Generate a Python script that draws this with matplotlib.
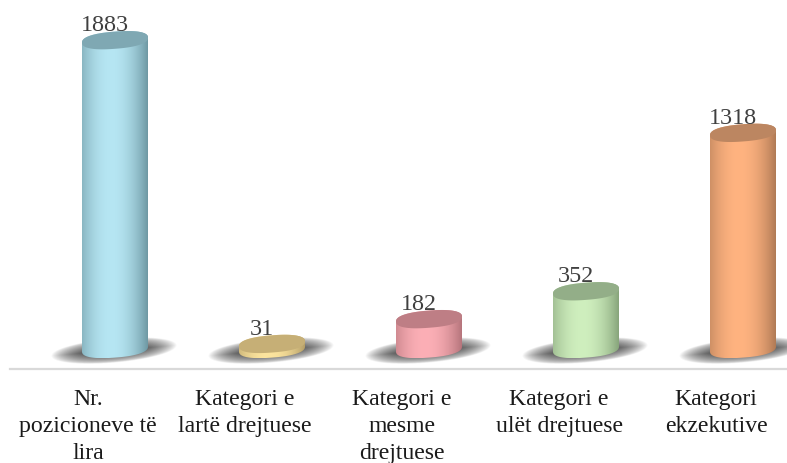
import numpy as np
import matplotlib
matplotlib.use("Agg")
import matplotlib.pyplot as plt
from matplotlib.colors import to_rgb
from matplotlib.patches import Polygon

# Job positions by category
categories = ["Nr.\npozicioneve të\nlira", "Kategori e\nlartë drejtuese",
              "Kategori e\nmesme\ndrejtuese", "Kategori e\nulët drejtuese",
              "Kategori\nekzekutive"]
values = [1883, 31, 182, 352, 1318]

face_colors = ["#B6E6F3", "#FCE49E", "#FCAFB6", "#CFEFBE", "#FFB380"]
edge_colors = ["#6E98A3", "#B59F68", "#B5747B", "#87A47B", "#B07A55"]
top_colors = ["#7FA8B3", "#C6AF76", "#BE7E85", "#93AE88", "#BC8661"]

W, H = 787, 463
PX_PER_CATEGORY = 157.0
PX_PER_UNIT = 0.164
AXIS_ROW = 369
BASE_ROW = 349
LEFT_COL = 10
FIRST_TICK_COL = 88
DEPTH_SHIFT = 27.0      # cylinders sit to the right of their ticks
SEMI_W, SEMI_H, SHEAR = 33.0, 8.6, 0.075
ROUNDNESS = 0.84

plt.rcParams["font.family"] = ["Liberation Serif", "DejaVu Serif"]

fig = plt.figure(figsize=(W / 100, H / 100), dpi=100)
ax = fig.add_axes([LEFT_COL / W, (H - AXIS_ROW) / H, (W - LEFT_COL) / W, AXIS_ROW / H])
xlim = ((LEFT_COL - FIRST_TICK_COL) / PX_PER_CATEGORY, (W - FIRST_TICK_COL) / PX_PER_CATEGORY)
ylim = ((BASE_ROW - AXIS_ROW) / PX_PER_UNIT, BASE_ROW / PX_PER_UNIT)


def to_data(i, level, dx, dy):
    """Offsets in pixels around a cylinder's axis at a value level."""
    return i + (DEPTH_SHIFT + np.asarray(dx)) / PX_PER_CATEGORY, level + np.asarray(dy) / PX_PER_UNIT


def ring(n=160, start=0.0, stop=2 * np.pi):
    t = np.linspace(start, stop, n)
    c, s = np.cos(t), np.sin(t)
    dx = SEMI_W * np.sign(c) * np.abs(c) ** ROUNDNESS
    return dx, SEMI_H * np.sign(s) * np.abs(s) ** ROUNDNESS + SHEAR * dx


def draw_shadow(i):
    cols = np.linspace(-66, 66, 280)
    rows = np.linspace(-18, 18, 120)
    xx, yy = np.meshgrid(cols, rows)
    u = np.clip(np.abs(xx + 1) / 63.0, 0, 1)
    half = 12.0 * np.sqrt(1 - u ** 2) + 0.01
    v = np.abs(yy - (-1.5 + 0.085 * xx)) / half
    body = np.clip(1 - v, 0, 1) ** 0.55
    alpha = 0.95 * body * np.clip(1 - u ** 2.6, 0, 1) ** 0.9
    rgba = np.zeros(xx.shape + (4,))
    rgba[..., :3] = 0.22
    rgba[..., 3] = alpha
    x0, y0 = to_data(i, 0, cols[0], rows[0])
    x1, y1 = to_data(i, 0, cols[-1], rows[-1])
    ax.imshow(rgba, extent=(x0, x1, y0, y1), origin="lower", aspect="auto",
              interpolation="bilinear", zorder=1)


def draw_cylinder(i, value, face, edge, top):
    # Side: horizontal shading, clipped to the swept outline
    u = (np.linspace(-1, 1, 200) + 0.12) / 1.12
    w = np.clip(np.abs(u), 0, 1)[None, :, None] ** 2.0
    shade = np.array(to_rgb(face))[None, None, :] * (1 - w) + np.array(to_rgb(edge))[None, None, :] * w
    lower_x, lower_y = ring(start=np.pi, stop=2 * np.pi)
    upper_x, upper_y = ring(start=0, stop=np.pi)
    bx, by = to_data(i, 0, lower_x, lower_y)
    tx, ty = to_data(i, value, upper_x, upper_y)
    outline = np.column_stack([np.r_[bx, tx], np.r_[by, ty]])
    clip = Polygon(outline, closed=True, transform=ax.transData, fc="none", ec="none")
    ax.add_patch(clip)
    x0, _ = to_data(i, 0, -SEMI_W, 0)
    x1, _ = to_data(i, 0, SEMI_W, 0)
    img = ax.imshow(shade, extent=(x0, x1, by.min(), ty.max()), aspect="auto",
                    interpolation="bilinear", zorder=2)
    img.set_clip_path(clip)
    # Top face
    dx, dy = ring()
    fx, fy = to_data(i, value, dx, dy)
    ax.fill(fx, fy, color=top, lw=0, zorder=3)


for i, v in enumerate(values):
    draw_shadow(i)
for i, v in enumerate(values):
    draw_cylinder(i, v, face_colors[i], edge_colors[i], top_colors[i])
    ax.annotate(str(v), xy=(i, v), xytext=(17 * 0.72, 9 * 0.72), textcoords="offset points",
                ha="center", va="baseline", fontsize=17.4, color="#404040", zorder=4,
                annotation_clip=False)

ax.set_xlim(xlim)
ax.set_ylim(ylim)
ax.set_xticks(range(len(categories)))
ax.set_xticklabels(categories, fontsize=17.1, color="#1a1a1a", linespacing=1.36)
ax.tick_params(axis="x", length=0, pad=14.5)
ax.set_yticks([])
for side in ("top", "left", "right"):
    ax.spines[side].set_visible(False)
ax.spines["bottom"].set_color("#D9D9D9")
ax.spines["bottom"].set_linewidth(1.6)

fig.savefig("out.png", dpi=100)
